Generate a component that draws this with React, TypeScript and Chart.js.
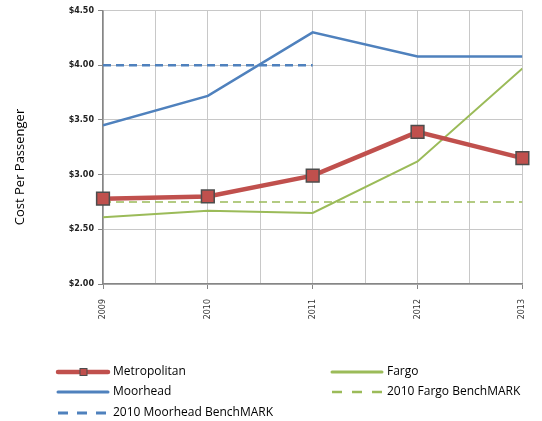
import React, { useEffect, useRef } from "react";
import { Chart, registerables } from "chart.js";

Chart.register(...registerables);

const years = [2009, 2010, 2011, 2012, 2013];
const metropolitan = [2.78, 2.8, 2.99, 3.39, 3.15];
const moorhead = [3.45, 3.72, 4.3, 4.08, 4.08];
const fargo = [2.61, 2.67, 2.65, 3.12, 3.97];
const moorheadBenchYears = [2009, 2010, 2011];
const moorheadBench = [4.0, 4.0, 4.0];
const fargoBench = [2.75, 2.75, 2.75, 2.75, 2.75];
const yTicks = [2.0, 2.5, 3.0, 3.5, 4.0, 4.5];
const yTitle = "Cost Per Passenger";
const legendLabels = [
  "Metropolitan",
  "Moorhead",
  "2010 Moorhead BenchMARK",
  "Fargo",
  "2010 Fargo BenchMARK",
];

const RED = "#C0504D";
const BLUE = "#4F81BD";
const GREEN = "#9BBB59";

const pts = (xs: number[], ys: number[]) => xs.map((x, i) => ({ x, y: ys[i] }));

const legendPlugin = {
  id: "customLegend",
  afterDraw(chart: any) {
    const ctx = chart.ctx as CanvasRenderingContext2D;
    ctx.save();
    // y-axis title
    ctx.save();
    ctx.translate(20, 167);
    ctx.rotate(-Math.PI / 2);
    ctx.font = "13px 'Open Sans'";
    ctx.textAlign = "center";
    ctx.textBaseline = "middle";
    ctx.fillStyle = "#000";
    ctx.fillText(yTitle, 0, 0);
    ctx.restore();

    ctx.font = "12px 'Open Sans'";
    ctx.textBaseline = "middle";
    ctx.fillStyle = "#000";
    const items = [
      { x: 58, y: 372, color: RED, w: 4.5, dash: [] as number[], marker: true, label: legendLabels[0] },
      { x: 58, y: 392, color: BLUE, w: 3, dash: [], marker: false, label: legendLabels[1] },
      { x: 58, y: 413, color: BLUE, w: 3, dash: [10, 9], marker: false, label: legendLabels[2] },
      { x: 332, y: 372, color: GREEN, w: 3, dash: [], marker: false, label: legendLabels[3] },
      { x: 332, y: 392, color: GREEN, w: 2.5, dash: [10, 10], marker: false, label: legendLabels[4] },
    ];
    for (const it of items) {
      ctx.beginPath();
      ctx.setLineDash(it.dash);
      ctx.strokeStyle = it.color;
      ctx.lineWidth = it.w;
      ctx.lineCap = it.dash.length ? "butt" : "round";
      ctx.moveTo(it.x, it.y);
      ctx.lineTo(it.x + 50, it.y);
      ctx.stroke();
      ctx.setLineDash([]);
      if (it.marker) {
        ctx.fillStyle = RED;
        ctx.strokeStyle = "#4d4d4d";
        ctx.lineWidth = 1;
        ctx.fillRect(it.x + 22, it.y - 3.5, 7, 7);
        ctx.strokeRect(it.x + 22, it.y - 3.5, 7, 7);
      }
      ctx.fillStyle = "#000";
      ctx.fillText(it.label, it.x + 55, it.y);
    }
    ctx.restore();
  },
};

export default function App() {
  const ref = useRef<HTMLCanvasElement | null>(null);
  useEffect(() => {
    if (!ref.current) return;
    const chart = new Chart(ref.current, {
      type: "line",
      data: {
        datasets: [
          {
            label: legendLabels[0],
            data: pts(years, metropolitan),
            borderColor: RED,
            backgroundColor: RED,
            borderWidth: 4.5,
            pointStyle: "rect",
            pointRadius: 9,
            pointBackgroundColor: RED,
            pointBorderColor: "#4d4d4d",
            pointBorderWidth: 1.5,
            tension: 0,
            clip: false,
          },
          {
            label: legendLabels[1],
            data: pts(years, moorhead),
            borderColor: BLUE,
            borderWidth: 2.5,
            pointRadius: 0,
            tension: 0,
          },
          {
            label: legendLabels[2],
            data: pts(moorheadBenchYears, moorheadBench),
            borderColor: BLUE,
            borderWidth: 2.5,
            borderDash: [8, 5],
            pointRadius: 0,
          },
          {
            label: legendLabels[3],
            data: pts(years, fargo),
            borderColor: GREEN,
            borderWidth: 2,
            pointRadius: 0,
            tension: 0,
          },
          {
            label: legendLabels[4],
            data: pts(years, fargoBench),
            borderColor: GREEN,
            borderWidth: 1.5,
            borderDash: [8, 5],
            pointRadius: 0,
          },
        ],
      },
      options: {
        animation: false,
        responsive: false,
        layout: { padding: { left: 12, top: 10, right: 18, bottom: 80 } },
        plugins: { legend: { display: false }, tooltip: { enabled: false } },
        scales: {
          x: {
            type: "linear",
            min: 2009,
            max: 2013,
            afterBuildTicks: (s: any) => {
              const t: any[] = [];
              for (let v = 2009; v <= 2013.001; v += 0.5) t.push({ value: v });
              s.ticks = t;
            },
            afterFit: (s: any) => {
              s.height = 57;
            },
            ticks: {
              autoSkip: false,
              maxRotation: 90,
              minRotation: 90,
              padding: 10,
              color: "#333",
              font: { size: 8, family: "'DejaVu Sans'" },
              callback: (v: any) => (Number.isInteger(v) ? String(v) : ""),
            },
            grid: {
              color: "#C8C8C8",
              lineWidth: 1,
              tickLength: 5,
              tickColor: (c: any) =>
                c.tick && Number.isInteger(c.tick.value) ? "#868686" : "rgba(0,0,0,0)",
            },
            border: { color: "#868686", width: 1.5 },
          },
          y: {
            min: 2,
            max: 4.5,
            afterBuildTicks: (s: any) => {
              s.ticks = yTicks.map((v) => ({ value: v }));
            },
            afterFit: (s: any) => {
              s.width = 103 - 12;
            },
            ticks: {
              padding: 4,
              color: "#222",
              font: { size: 8, weight: "bold", family: "'DejaVu Sans'" },
              callback: (v: any) => "$" + Number(v).toFixed(2),
            },
            grid: { color: "#C8C8C8", lineWidth: 1, tickLength: 5, tickColor: "#868686" },
            border: { color: "#868686", width: 1.5 },
          },
        },
      },
      plugins: [legendPlugin],
    });
    return () => chart.destroy();
  }, []);
  return (
    <div style={{ position: "fixed", left: 0, top: 0, width: 542, height: 421, background: "#fff" }}>
      <canvas ref={ref} width={542} height={421} style={{ width: 542, height: 421 }} />
    </div>
  );
}
